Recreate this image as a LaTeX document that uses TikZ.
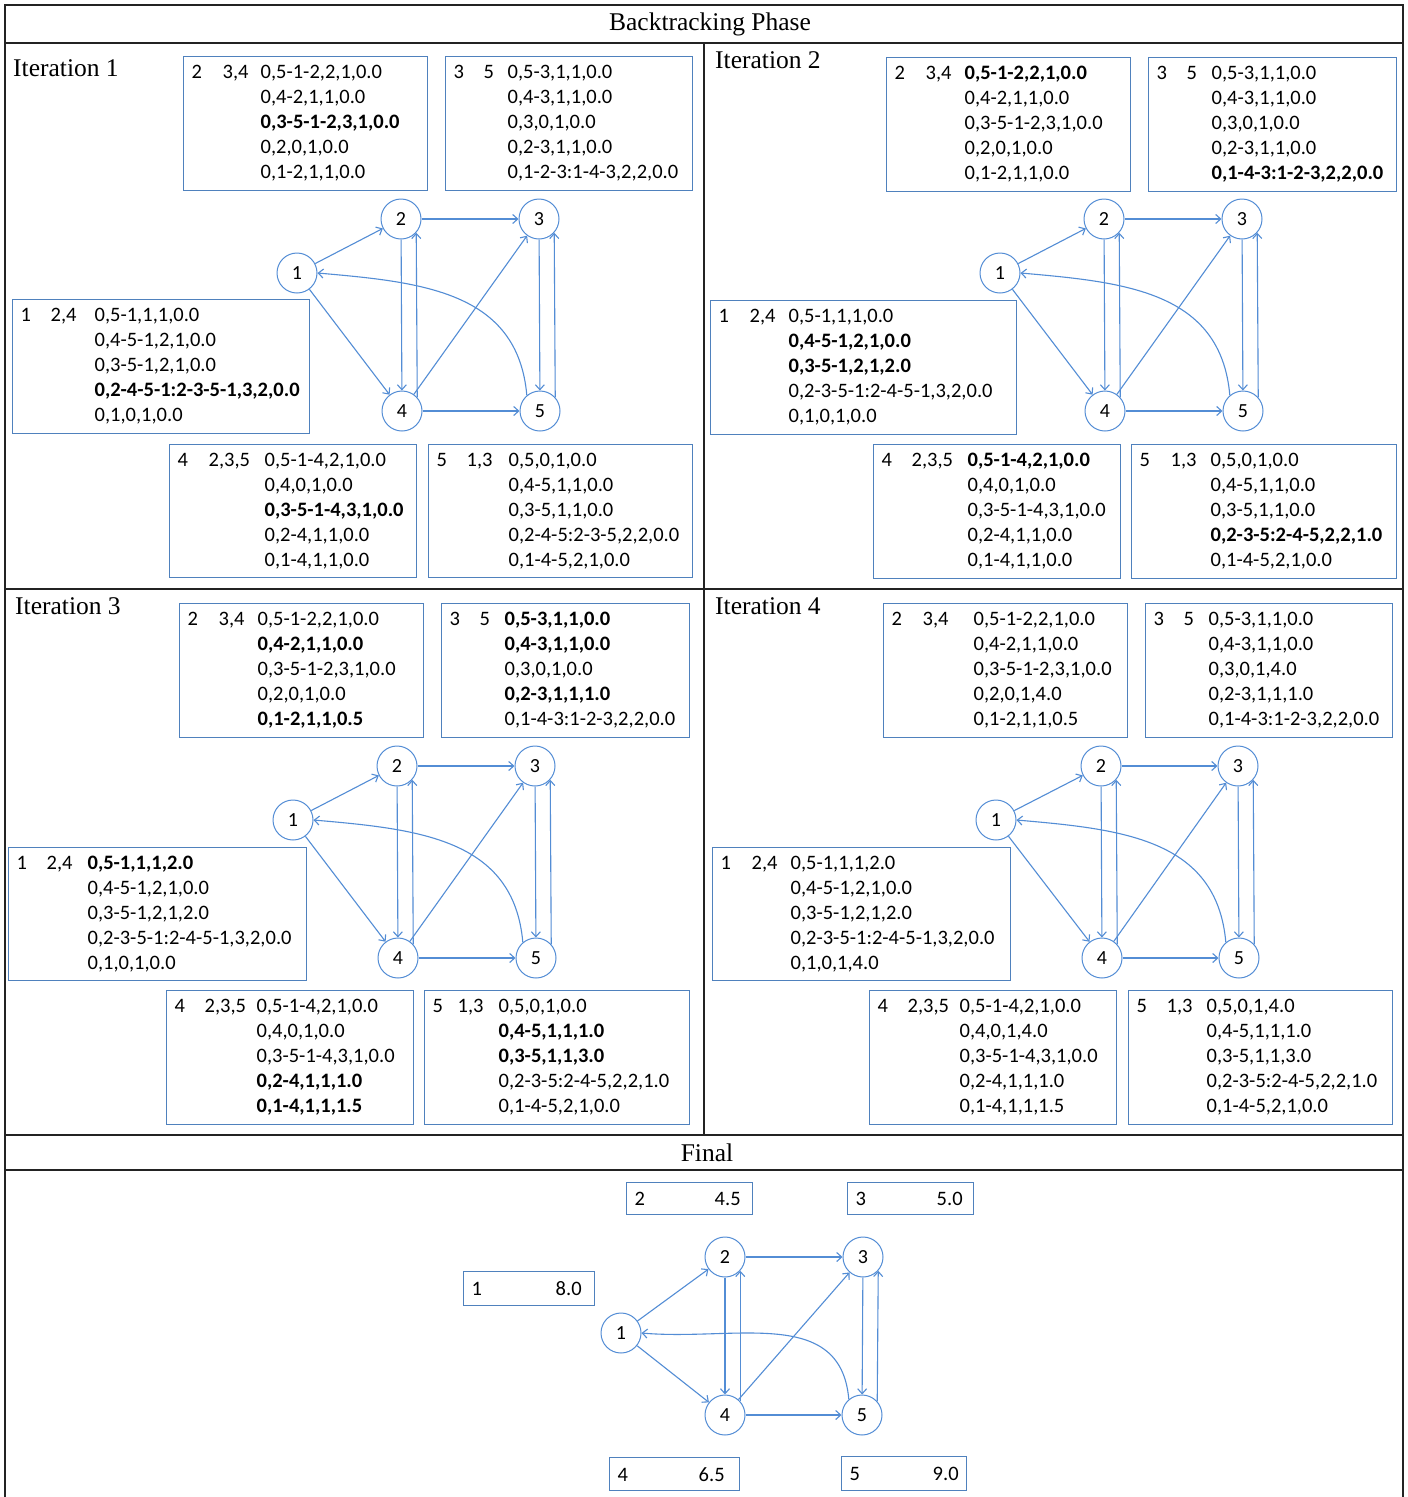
\documentclass[tikz,border=0pt]{standalone}
\usepackage{fontspec}
\setmainfont{Carlito}
\newfontfamily\tnr{Liberation Serif}
\usetikzlibrary{arrows.meta}
\definecolor{boxblue}{RGB}{79,129,189}
\definecolor{edgeblue}{RGB}{83,141,213}
\definecolor{framegray}{RGB}{35,35,35}
\newcommand\tb[4]{\begin{tabular}{@{}p{#1pt}@{}p{#2pt}@{}l@{}}#3 & #4 & }
\newcommand\te{\end{tabular}}
\newcommand\R{\\ & & }
\newcommand\dbox[6]{\node[dbox, minimum width=#4pt, minimum height=#5pt] (#1) at (#2,-#3) {\makebox[\dimexpr#4pt-16pt\relax][l]{#6}};}
\newcommand\graphedges{%
  \draw[edge] (n1) -- (n2);
  \draw[edge] (n1) -- (n4);
  \draw[edge] (n2) -- (n3);
  \draw[edge] (n2) -- (n4);
  \draw[edge] (n4.42) -- (n2.-42);
  \draw[edge] (n3) -- (n5);
  \draw[edge] (n5.42) -- (n3.-42);
  \draw[edge] (n4) -- (n3);
  \draw[edge] (n4) -- (n5);
  \draw[edge] (n5.130) to[out=95,in=-5,looseness=1.1] (n1.east);
}
\begin{document}
\begin{tikzpicture}[x=1pt,y=1pt,
  frame/.style={draw=framegray, line width=1.6pt},
  vtx/.style={circle, draw=edgeblue, line width=1pt, minimum size=40pt, inner sep=0pt, font=\fontsize{20}{24}\selectfont},
  edge/.style={draw=edgeblue, line width=1.1pt, -{Straight Barb[length=5pt,width=9pt]}},
  dbox/.style={draw=boxblue, line width=1.3pt, anchor=north west, inner xsep=8pt, inner ysep=0pt, font=\fontsize{20.5}{25}\selectfont},
  ttl/.style={font=\tnr\fontsize{25.5}{28}\selectfont, inner sep=0pt},
  iter/.style={font=\tnr\fontsize{25.5}{28}\selectfont, inner sep=0pt, anchor=west}]
\useasboundingbox (0,0) rectangle (1408,-1497);
\fill[white] (0,0) rectangle (1408,-1497);
% frame
\draw[frame] (5,-1497) -- (5,-5) -- (1403,-5) -- (1403,-1497);
\draw[frame] (5,-43) -- (1403,-43);
\draw[frame] (5,-589) -- (1403,-589);
\draw[frame] (5,-1135) -- (1403,-1135);
\draw[frame] (5,-1170) -- (1403,-1170);
\draw[frame] (704,-43) -- (704,-1135);
\node[ttl] (title) at (710,-24) {Backtracking Phase};
\node[ttl] (final) at (707,-1153) {Final};
\node[iter] (it1) at (13,-68) {Iteration 1};
\node[iter] (it2) at (715,-60) {Iteration 2};
\node[iter] (it3) at (15,-606) {Iteration 3};
\node[iter] (it4) at (715,-606) {Iteration 4};

% ---------------- Iteration 1
\begin{scope}[name prefix=a-]
\node[vtx] (n1) at (297,-273) {1};
\node[vtx] (n2) at (401,-219) {2};
\node[vtx] (n3) at (539,-219) {3};
\node[vtx] (n4) at (402,-411) {4};
\node[vtx] (n5) at (540,-411) {5};
\graphedges
\dbox{b2}{183}{56}{244}{134}{\tb{31}{38}{2}{3,4}0,5-1-2,2,1,0.0\R 0,4-2,1,1,0.0\R\textbf{0,3-5-1-2,3,1,0.0}\R 0,2,0,1,0.0\R 0,1-2,1,1,0.0\te}
\dbox{b3}{445}{56}{247}{134}{\tb{30}{24}{3}{5}0,5-3,1,1,0.0\R 0,4-3,1,1,0.0\R 0,3,0,1,0.0\R 0,2-3,1,1,0.0\R 0,1-2-3:1-4-3,2,2,0.0\te}
\dbox{b1}{12}{299}{297}{134}{\tb{30}{44}{1}{2,4}0,5-1,1,1,0.0\R 0,4-5-1,2,1,0.0\R 0,3-5-1,2,1,0.0\R\textbf{0,2-4-5-1:2-3-5-1,3,2,0.0}\R 0,1,0,1,0.0\te}
\dbox{b4}{169}{444}{247}{133}{\tb{31}{56}{4}{2,3,5}0,5-1-4,2,1,0.0\R 0,4,0,1,0.0\R\textbf{0,3-5-1-4,3,1,0.0}\R 0,2-4,1,1,0.0\R 0,1-4,1,1,0.0\te}
\dbox{b5}{428}{444}{264}{133}{\tb{30}{42}{5}{1,3}0,5,0,1,0.0\R 0,4-5,1,1,0.0\R 0,3-5,1,1,0.0\R 0,2-4-5:2-3-5,2,2,0.0\R 0,1-4-5,2,1,0.0\te}
\end{scope}

% ---------------- Iteration 2
\begin{scope}[name prefix=b-]
\node[vtx] (n1) at (1000,-273) {1};
\node[vtx] (n2) at (1104,-219) {2};
\node[vtx] (n3) at (1242,-219) {3};
\node[vtx] (n4) at (1105,-411) {4};
\node[vtx] (n5) at (1243,-411) {5};
\graphedges
\dbox{b2}{886}{57}{244}{134}{\tb{31}{39}{2}{3,4}\textbf{0,5-1-2,2,1,0.0}\R 0,4-2,1,1,0.0\R 0,3-5-1-2,3,1,0.0\R 0,2,0,1,0.0\R 0,1-2,1,1,0.0\te}
\dbox{b3}{1148}{57}{248}{134}{\tb{30}{25}{3}{5}0,5-3,1,1,0.0\R 0,4-3,1,1,0.0\R 0,3,0,1,0.0\R 0,2-3,1,1,0.0\R\textbf{0,1-4-3:1-2-3,2,2,0.0}\te}
\dbox{b1}{710}{300}{306}{134}{\tb{31}{39}{1}{2,4}0,5-1,1,1,0.0\R\textbf{0,4-5-1,2,1,0.0}\R\textbf{0,3-5-1,2,1,2.0}\R 0,2-3-5-1:2-4-5-1,3,2,0.0\R 0,1,0,1,0.0\te}
\dbox{b4}{873}{444}{247}{134}{\tb{30}{56}{4}{2,3,5}\textbf{0,5-1-4,2,1,0.0}\R 0,4,0,1,0.0\R 0,3-5-1-4,3,1,0.0\R 0,2-4,1,1,0.0\R 0,1-4,1,1,0.0\te}
\dbox{b5}{1131}{444}{265}{134}{\tb{31}{40}{5}{1,3}0,5,0,1,0.0\R 0,4-5,1,1,0.0\R 0,3-5,1,1,0.0\R\textbf{0,2-3-5:2-4-5,2,2,1.0}\R 0,1-4-5,2,1,0.0\te}
\end{scope}

% ---------------- Iteration 3
\begin{scope}[name prefix=c-]
\node[vtx] (n1) at (293,-820) {1};
\node[vtx] (n2) at (397,-766) {2};
\node[vtx] (n3) at (535,-766) {3};
\node[vtx] (n4) at (398,-958) {4};
\node[vtx] (n5) at (536,-958) {5};
\graphedges
\dbox{b2}{179}{603}{244}{134}{\tb{31}{39}{2}{3,4}0,5-1-2,2,1,0.0\R\textbf{0,4-2,1,1,0.0}\R 0,3-5-1-2,3,1,0.0\R 0,2,0,1,0.0\R\textbf{0,1-2,1,1,0.5}\te}
\dbox{b3}{441}{603}{248}{134}{\tb{30}{25}{3}{5}\textbf{0,5-3,1,1,0.0}\R\textbf{0,4-3,1,1,0.0}\R 0,3,0,1,0.0\R\textbf{0,2-3,1,1,1.0}\R 0,1-4-3:1-2-3,2,2,0.0\te}
\dbox{b1}{8}{847}{298}{133}{\tb{30}{41}{1}{2,4}\textbf{0,5-1,1,1,2.0}\R 0,4-5-1,2,1,0.0\R 0,3-5-1,2,1,2.0\R 0,2-3-5-1:2-4-5-1,3,2,0.0\R 0,1,0,1,0.0\te}
\dbox{b4}{166}{990}{247}{134}{\tb{30}{52}{4}{2,3,5}0,5-1-4,2,1,0.0\R 0,4,0,1,0.0\R 0,3-5-1-4,3,1,0.0\R\textbf{0,2-4,1,1,1.0}\R\textbf{0,1-4,1,1,1.5}\te}
\dbox{b5}{424}{990}{265}{134}{\tb{25}{41}{5}{1,3}0,5,0,1,0.0\R\textbf{0,4-5,1,1,1.0}\R\textbf{0,3-5,1,1,3.0}\R 0,2-3-5:2-4-5,2,2,1.0\R 0,1-4-5,2,1,0.0\te}
\end{scope}

% ---------------- Iteration 4
\begin{scope}[name prefix=d-]
\node[vtx] (n1) at (996,-820) {1};
\node[vtx] (n2) at (1101,-766) {2};
\node[vtx] (n3) at (1238,-766) {3};
\node[vtx] (n4) at (1102,-958) {4};
\node[vtx] (n5) at (1239,-958) {5};
\graphedges
\dbox{b2}{883}{603}{244}{134}{\tb{31}{51}{2}{3,4}0,5-1-2,2,1,0.0\R 0,4-2,1,1,0.0\R 0,3-5-1-2,3,1,0.0\R 0,2,0,1,4.0\R 0,1-2,1,1,0.5\te}
\dbox{b3}{1145}{603}{247}{134}{\tb{30}{25}{3}{5}0,5-3,1,1,0.0\R 0,4-3,1,1,0.0\R 0,3,0,1,4.0\R 0,2-3,1,1,1.0\R 0,1-4-3:1-2-3,2,2,0.0\te}
\dbox{b1}{712}{847}{298}{133}{\tb{31}{39}{1}{2,4}0,5-1,1,1,2.0\R 0,4-5-1,2,1,0.0\R 0,3-5-1,2,1,2.0\R 0,2-3-5-1:2-4-5-1,3,2,0.0\R 0,1,0,1,4.0\te}
\dbox{b4}{869}{990}{247}{134}{\tb{30}{52}{4}{2,3,5}0,5-1-4,2,1,0.0\R 0,4,0,1,4.0\R 0,3-5-1-4,3,1,0.0\R 0,2-4,1,1,1.0\R 0,1-4,1,1,1.5\te}
\dbox{b5}{1128}{990}{264}{134}{\tb{30}{40}{5}{1,3}0,5,0,1,4.0\R 0,4-5,1,1,1.0\R 0,3-5,1,1,3.0\R 0,2-3-5:2-4-5,2,2,1.0\R 0,1-4-5,2,1,0.0\te}
\end{scope}

% ---------------- Final
\begin{scope}[name prefix=f-]
\node[vtx] (n1) at (621,-1333) {1};
\node[vtx] (n2) at (725,-1257) {2};
\node[vtx] (n3) at (863,-1257) {3};
\node[vtx] (n4) at (725,-1415) {4};
\node[vtx] (n5) at (862,-1415) {5};
\graphedges
\dbox{b2}{626}{1182}{126}{32}{2\hfill 4.5\hspace{4pt}}
\dbox{b3}{847}{1182}{126}{32}{3\hfill 5.0\hspace{3pt}}
\dbox{b1}{463}{1271}{131}{34}{1\hfill 8.0\hspace{5pt}}
\dbox{b4}{609}{1457}{130}{33}{4\hfill 6.5\hspace{7pt}}
\dbox{b5}{841}{1456}{125}{34}{5\hfill 9.0\hspace{0pt}}
\end{scope}
\end{tikzpicture}
\end{document}
